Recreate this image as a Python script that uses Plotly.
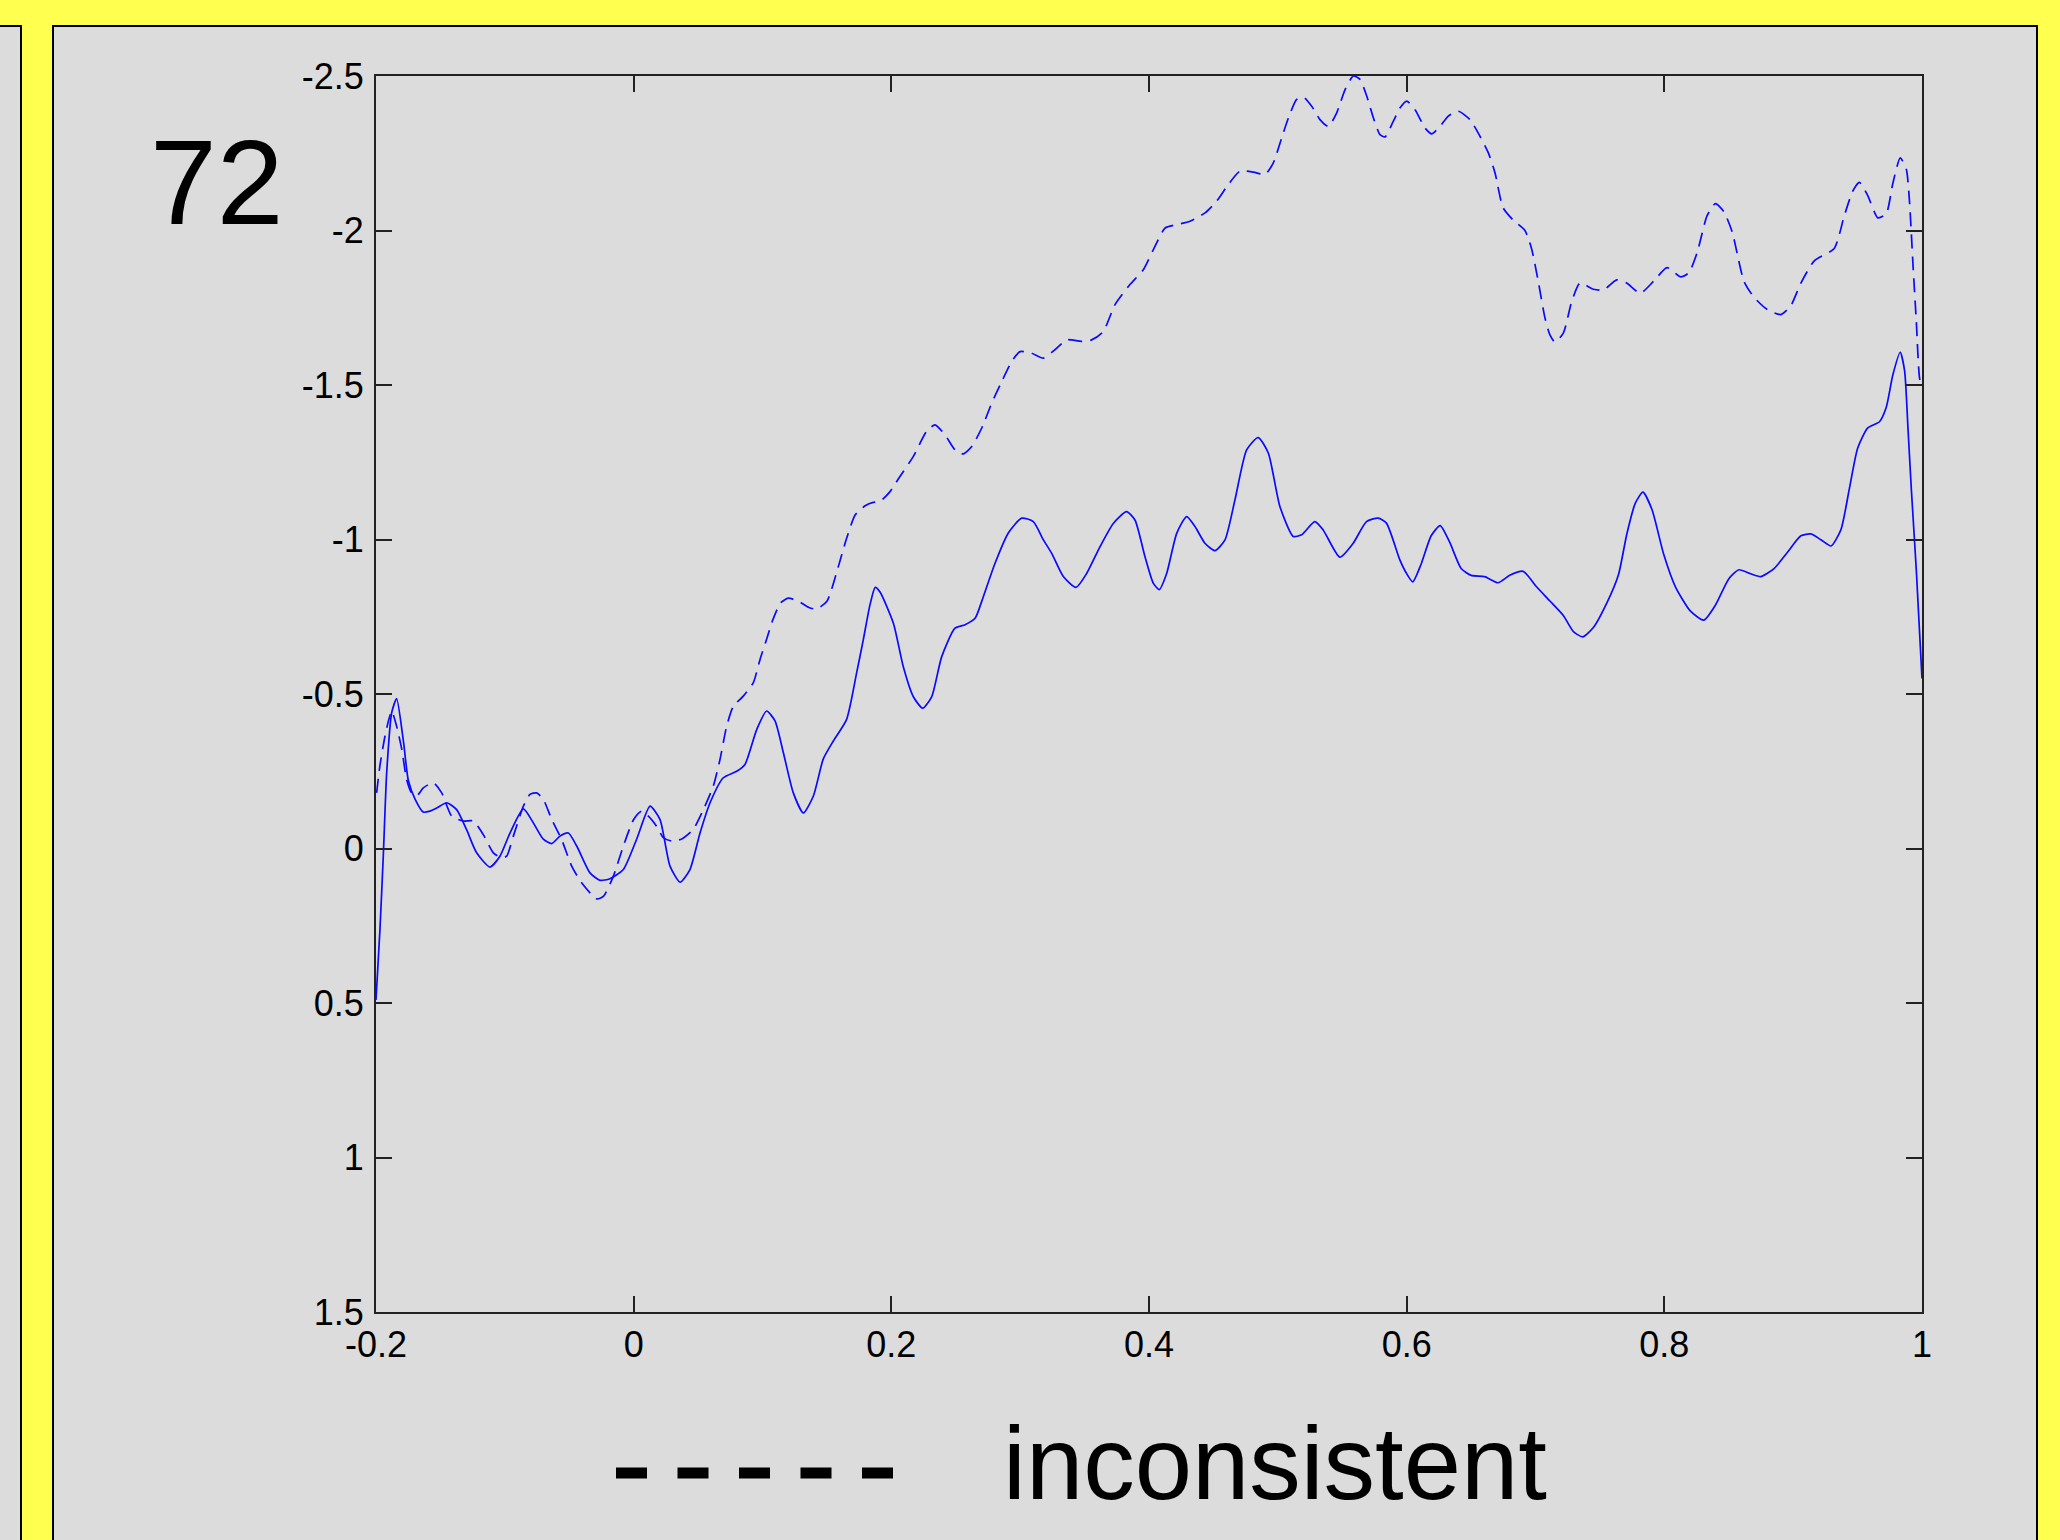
import plotly.graph_objects as go

# ---------------- data ----------------
solid_x = [-0.2, -0.1969, -0.1943, -0.1917, -0.1878, -0.184, -0.1788, -0.1749, -0.1697, -0.1633,
           -0.1581, -0.1529, -0.1451, -0.1374, -0.1296, -0.1219, -0.1115, -0.1038, -0.096, -0.0856,
           -0.0779, -0.0701, -0.0636, -0.0572, -0.0507, -0.0442, -0.0339, -0.0261, -0.0184, -0.008,
           0.0023, 0.0127, 0.0204, 0.0282, 0.036, 0.0437, 0.0515, 0.0593, 0.0696, 0.08,
           0.0864, 0.0955, 0.1032, 0.1097, 0.1162, 0.1239, 0.1317, 0.1395, 0.1472, 0.155,
           0.1653, 0.1731, 0.1783, 0.1835, 0.1875, 0.1912, 0.2016, 0.2093, 0.2171, 0.2243,
           0.2313, 0.2391, 0.2494, 0.2572, 0.265, 0.2714, 0.2805, 0.2908, 0.3012, 0.3102,
           0.318, 0.3245, 0.3335, 0.3433, 0.3516, 0.362, 0.3723, 0.3826, 0.3891, 0.3969,
           0.4034, 0.408, 0.4137, 0.4215, 0.4292, 0.4357, 0.4434, 0.4512, 0.459, 0.4667,
           0.4758, 0.4848, 0.4926, 0.5016, 0.5119, 0.5184, 0.5287, 0.5352, 0.5481, 0.5585,
           0.5688, 0.5779, 0.5843, 0.5947, 0.5995, 0.6047, 0.6112, 0.619, 0.626, 0.6333,
           0.6423, 0.6501, 0.6605, 0.6709, 0.68, 0.6904, 0.7008, 0.7112, 0.7216, 0.7294,
           0.7366, 0.7449, 0.7553, 0.7644, 0.7709, 0.7774, 0.7834, 0.7904, 0.7995, 0.8086,
           0.8203, 0.8306, 0.8397, 0.8501, 0.8579, 0.867, 0.8748, 0.8852, 0.8956, 0.906,
           0.9138, 0.9216, 0.9294, 0.9371, 0.9436, 0.9501, 0.9579, 0.967, 0.9722, 0.9774,
           0.9831, 0.9865, 0.9891, 0.9917, 0.9956, 1.0]
solid_y = [0.49, 0.26, 0.02, -0.245, -0.44, -0.485, -0.35, -0.22, -0.16, -0.118,
           -0.121, -0.131, -0.148, -0.126, -0.06, 0.014, 0.06, 0.025, -0.05, -0.128,
           -0.083, -0.03, -0.016, -0.04, -0.05, -0.008, 0.079, 0.103, 0.098, 0.068,
           -0.03, -0.137, -0.094, 0.057, 0.109, 0.068, -0.05, -0.148, -0.229, -0.25,
           -0.272, -0.385, -0.445, -0.413, -0.31, -0.18, -0.115, -0.17, -0.29, -0.348,
           -0.418, -0.569, -0.677, -0.79, -0.845, -0.83, -0.729, -0.588, -0.491, -0.454,
           -0.491, -0.621, -0.713, -0.724, -0.745, -0.815, -0.923, -1.021, -1.069, -1.058,
           -0.999, -0.955, -0.88, -0.845, -0.89, -0.977, -1.052, -1.09, -1.063, -0.944,
           -0.858, -0.838, -0.89, -1.02, -1.074, -1.042, -0.988, -0.964, -0.999, -1.128,
           -1.29, -1.33, -1.28, -1.107, -1.01, -1.015, -1.058, -1.031, -0.943, -0.988,
           -1.058, -1.069, -1.053, -0.934, -0.893, -0.863, -0.92, -1.012, -1.045, -0.992,
           -0.906, -0.884, -0.88, -0.86, -0.884, -0.897, -0.847, -0.801, -0.754, -0.702,
           -0.685, -0.715, -0.794, -0.886, -1.018, -1.117, -1.153, -1.097, -0.952, -0.847,
           -0.768, -0.739, -0.788, -0.873, -0.902, -0.889, -0.88, -0.906, -0.959, -1.012,
           -1.018, -0.999, -0.979, -1.032, -1.164, -1.296, -1.361, -1.381, -1.427, -1.533,
           -1.606, -1.546, -1.361, -1.164, -0.9, -0.55]

dashed_x = [-0.1995, -0.197, -0.193, -0.19, -0.1878, -0.184, -0.18, -0.1762, -0.1723, -0.1684,
            -0.1633, -0.1555, -0.149, -0.1413, -0.1322, -0.1245, -0.1167, -0.1089, -0.1025, -0.0986,
            -0.0934, -0.0856, -0.0805, -0.0753, -0.0701, -0.0636, -0.0559, -0.0481, -0.0404, -0.0287,
            -0.0235, -0.0158, -0.008, 0.0, 0.0062, 0.0114, 0.0178, 0.023, 0.0295, 0.0373,
            0.0463, 0.0541, 0.0618, 0.067, 0.0722, 0.0774, 0.0851, 0.0929, 0.0981, 0.1032,
            0.108, 0.114, 0.12, 0.128, 0.136, 0.142, 0.15, 0.158, 0.165, 0.172,
            0.18, 0.186, 0.1912, 0.199, 0.2067, 0.2171, 0.2274, 0.2339, 0.2416, 0.2494,
            0.2559, 0.2624, 0.2701, 0.2779, 0.2857, 0.2934, 0.2999, 0.3089, 0.318, 0.327,
            0.3361, 0.3477, 0.3555, 0.3645, 0.3736, 0.3852, 0.3956, 0.4034, 0.4125, 0.4215,
            0.4318, 0.4435, 0.4525, 0.4616, 0.4706, 0.481, 0.4901, 0.4965, 0.503, 0.5082,
            0.5146, 0.5198, 0.5263, 0.5327, 0.5392, 0.5457, 0.5522, 0.5586, 0.5638, 0.569,
            0.5742, 0.5793, 0.5832, 0.5897, 0.5949, 0.6, 0.6065, 0.6142, 0.6194, 0.6259,
            0.6323, 0.6401, 0.6491, 0.6569, 0.6634, 0.6686, 0.6748, 0.6826, 0.6917, 0.6969,
            0.7021, 0.7073, 0.7112, 0.7151, 0.7216, 0.7281, 0.7345, 0.7449, 0.7527, 0.763,
            0.7708, 0.7813, 0.7917, 0.8021, 0.8125, 0.819, 0.8255, 0.8332, 0.8397, 0.8462,
            0.8527, 0.8618, 0.8696, 0.88, 0.8904, 0.8982, 0.906, 0.9164, 0.9319, 0.9397,
            0.9462, 0.9514, 0.9579, 0.9657, 0.9722, 0.9774, 0.9831, 0.9878, 0.9904, 0.993,
            0.9956, 0.9982, 1.0]
dashed_y = [-0.18, -0.267, -0.364, -0.418, -0.445, -0.396, -0.321, -0.223, -0.18, -0.17,
            -0.196, -0.213, -0.18, -0.105, -0.089, -0.089, -0.045, 0.014, 0.03, 0.025,
            -0.04, -0.137, -0.175, -0.18, -0.159, -0.094, -0.029, 0.057, 0.111, 0.163,
            0.155, 0.09, -0.008, -0.094, -0.121, -0.105, -0.072, -0.035, -0.024, -0.031,
            -0.062, -0.126, -0.202, -0.288, -0.396, -0.461, -0.493, -0.537, -0.612, -0.677,
            -0.74, -0.795, -0.81, -0.8, -0.78, -0.775, -0.8, -0.9, -1.0, -1.08,
            -1.11, -1.12, -1.123, -1.155, -1.204, -1.269, -1.35, -1.371, -1.339, -1.29,
            -1.277, -1.301, -1.36, -1.441, -1.511, -1.576, -1.608, -1.603, -1.587, -1.614,
            -1.646, -1.641, -1.646, -1.673, -1.76, -1.825, -1.873, -1.938, -2.008, -2.019,
            -2.03, -2.057, -2.095, -2.149, -2.192, -2.189, -2.181, -2.219, -2.3, -2.364,
            -2.424, -2.432, -2.402, -2.359, -2.337, -2.381, -2.456, -2.5, -2.489, -2.435,
            -2.364, -2.31, -2.303, -2.354, -2.397, -2.419, -2.391, -2.332, -2.313, -2.337,
            -2.37, -2.386, -2.359, -2.305, -2.251, -2.186, -2.074, -2.034, -2.001, -1.942,
            -1.836, -1.718, -1.662, -1.639, -1.668, -1.77, -1.83, -1.81, -1.807, -1.84,
            -1.83, -1.797, -1.836, -1.88, -1.85, -1.863, -1.929, -2.048, -2.087, -2.061,
            -1.995, -1.836, -1.784, -1.744, -1.728, -1.757, -1.83, -1.902, -1.942, -2.048,
            -2.127, -2.156, -2.113, -2.041, -2.054, -2.153, -2.235, -2.199, -2.087, -1.889,
            -1.705, -1.52, -1.5]

x_tickvals = [-0.2, 0, 0.2, 0.4, 0.6, 0.8, 1]
x_ticktext = ["-0.2", "0", "0.2", "0.4", "0.6", "0.8", "1"]
y_tickvals = [-2.5, -2, -1.5, -1, -0.5, 0, 0.5, 1, 1.5]
y_ticktext = ["-2.5", "-2", "-1.5", "-1", "-0.5", "0", "0.5", "1", "1.5"]

panel_label = "72"
legend_label = "inconsistent"

# ---------------- layout geometry ----------------
W, H = 2060, 1540
L, R, T, B = 376, 138, 76, 228
PW, PH = W - L - R, H - T - B
GRAY = "#DCDCDC"
YELLOW = "#FFFF50"
BLUE = "#0A0AFF"
FONT = "Liberation Sans, Arial, sans-serif"


def px(xp):
    return (xp - L) / PW


def py(yp):
    return (H - B - yp) / PH


fig = go.Figure()
fig.add_trace(go.Scatter(x=dashed_x, y=dashed_y, mode="lines",
                         line=dict(color=BLUE, width=1.7, dash="14px,8px", shape="spline", smoothing=0.6),
                         showlegend=False, hoverinfo="skip"))
fig.add_trace(go.Scatter(x=solid_x, y=solid_y, mode="lines",
                         line=dict(color=BLUE, width=1.7, shape="spline", smoothing=0.6),
                         showlegend=False, hoverinfo="skip"))

axis_common = dict(showgrid=False, zeroline=False, showline=True, mirror="ticks",
                   linecolor="#222222", linewidth=2, ticks="inside", ticklen=16,
                   tickwidth=2, tickcolor="#222222",
                   tickfont=dict(family=FONT, size=36, color="black"))

fig.update_layout(
    width=W, height=H,
    margin=dict(l=L, r=R, t=T, b=B, pad=0),
    paper_bgcolor=YELLOW, plot_bgcolor=GRAY,
    xaxis=dict(range=[-0.2, 1], tickmode="array", tickvals=x_tickvals, ticktext=x_ticktext,
               **axis_common),
    yaxis=dict(range=[1.5, -2.5], tickmode="array", tickvals=y_tickvals, ticktext=y_ticktext,
               ticklabelstandoff=3, **axis_common),
    shapes=[
        dict(type="rect", xref="paper", yref="paper", layer="below",
             x0=px(53), x1=px(2037), y0=py(1560), y1=py(26),
             fillcolor=GRAY, line=dict(color="black", width=2)),
        dict(type="rect", xref="paper", yref="paper", layer="below",
             x0=px(-20), x1=px(21), y0=py(1560), y1=py(26),
             fillcolor=GRAY, line=dict(color="black", width=2)),
        dict(type="line", xref="paper", yref="paper",
             x0=px(616), x1=px(894), y0=py(1473), y1=py(1473),
             line=dict(color="black", width=11, dash="31px,30.5px")),
    ],
    annotations=[
        dict(text=panel_label, xref="paper", yref="paper", x=px(216), y=py(182),
             xanchor="center", yanchor="middle", showarrow=False,
             font=dict(family=FONT, size=120, color="black")),
        dict(text=legend_label, xref="paper", yref="paper", x=px(1001), y=py(1463),
             xanchor="left", yanchor="middle", showarrow=False,
             font=dict(family=FONT, size=103, color="black")),
    ],
)

fig.write_html("out.html", config={"displayModeBar": False},
               post_script="document.body.style.margin='0px';document.body.style.overflow='hidden';")
